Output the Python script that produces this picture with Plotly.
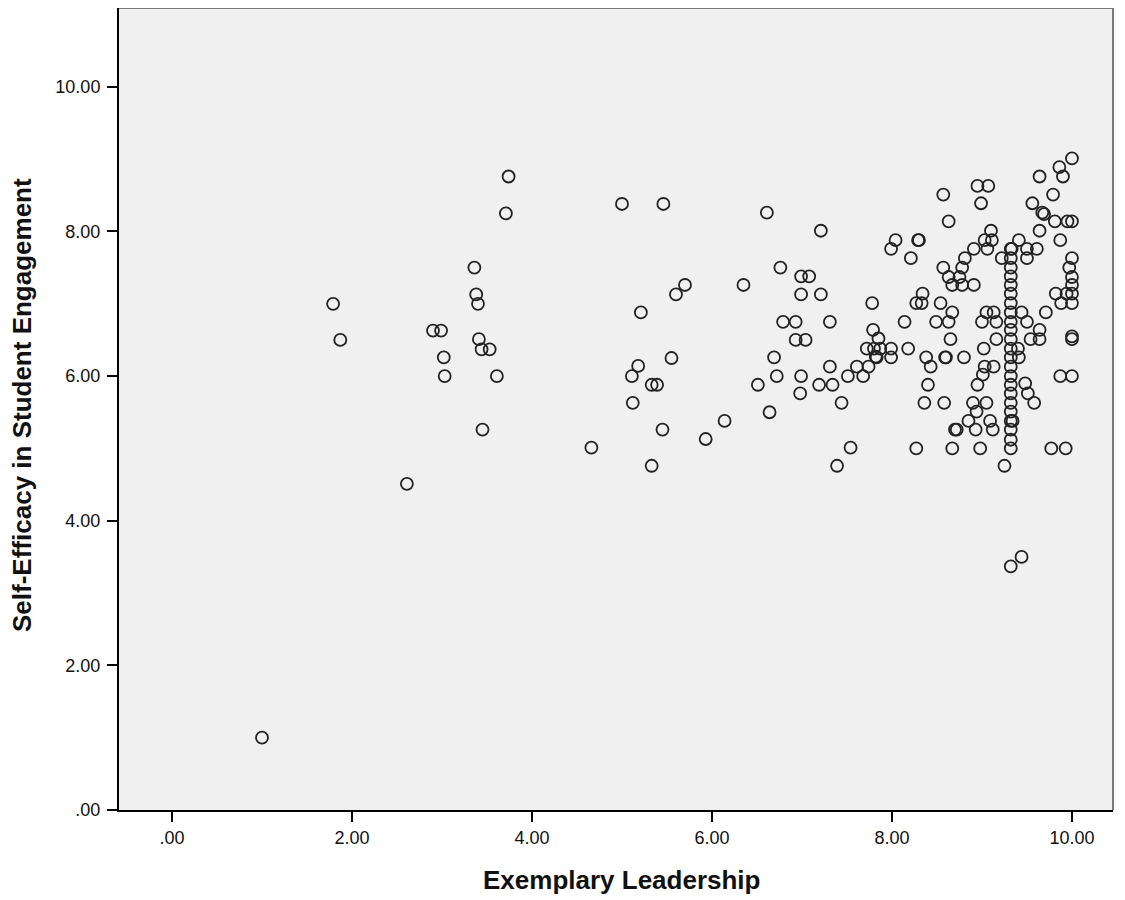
import plotly.graph_objects as go

# Exemplary Leadership (x) and Self-Efficacy in Student Engagement (y)
x_left = [1.00, 1.79, 1.87, 2.61, 2.90, 2.99, 3.02, 3.03, 3.74, 3.71, 3.36, 3.38, 3.40,
          3.41, 3.44, 3.53, 3.61, 3.45]
y_left = [1.00, 7.00, 6.50, 4.51, 6.63, 6.63, 6.26, 6.00, 8.76, 8.25, 7.50, 7.13, 7.00,
          6.51, 6.37, 6.37, 6.00, 5.26]

x_mid = [5.00, 5.46, 5.70, 5.60, 6.35, 5.21, 5.55, 5.18, 5.11, 5.33, 5.39, 5.12, 5.45,
         6.14, 5.93, 4.66, 5.33,
         6.61, 7.21, 6.76, 6.99, 7.08, 6.99, 7.21, 7.78, 6.79, 6.93, 7.31, 6.93, 7.04,
         6.69, 7.31, 6.72, 6.99, 6.51, 7.19, 7.34, 6.98, 7.44, 6.64, 7.54, 7.39,
         7.79, 7.72, 7.80, 7.82, 7.61, 7.74, 7.51, 7.68, 7.85, 7.87, 7.99, 7.83, 7.99, 8.18]
y_mid = [8.38, 8.38, 7.26, 7.13, 7.26, 6.88, 6.25, 6.14, 6.00, 5.88, 5.88, 5.63, 5.26,
         5.38, 5.13, 5.01, 4.76,
         8.26, 8.01, 7.50, 7.38, 7.38, 7.13, 7.13, 7.01, 6.75, 6.75, 6.75, 6.50, 6.50,
         6.26, 6.13, 6.00, 6.00, 5.88, 5.88, 5.88, 5.76, 5.63, 5.50, 5.01, 4.76,
         6.64, 6.38, 6.38, 6.27, 6.13, 6.13, 6.00, 6.00, 6.52, 6.38, 6.38, 6.26, 6.26, 6.38]

x_right = [10.00, 9.86, 9.90, 9.64, 9.79, 8.57, 8.95, 9.07, 8.99, 9.56, 9.67, 9.69,
           8.63, 9.81, 9.95, 10.00, 9.64, 9.87, 8.04, 7.99, 8.29, 8.30, 8.21,
           9.10, 9.03, 9.11, 8.91, 9.06, 8.81, 9.41, 9.33, 9.50, 9.61, 9.22, 9.50, 10.00,
           8.57, 8.78, 9.97, 8.63, 8.75, 10.00, 8.67, 8.78, 8.91, 10.00,
           8.34, 8.27, 8.33, 8.54, 9.82, 9.94, 10.00, 9.88, 10.00,
           8.67, 9.71, 9.05, 9.13, 9.44, 8.14, 8.49, 8.63, 9.00, 9.16, 9.50, 9.64, 10.00,
           8.65, 9.16, 9.54, 9.64, 10.00, 9.02, 9.40, 8.38, 8.59, 8.60, 8.80, 8.43,
           9.03, 9.13, 9.41, 9.01, 8.95, 8.40, 9.48, 9.51, 9.58, 9.87, 10.00,
           8.36, 8.58, 8.90, 9.05, 8.94, 8.85, 9.09, 9.34, 8.70, 8.72, 8.93, 9.12,
           8.27, 8.67, 8.98, 9.77, 9.93, 9.25, 9.32, 9.44,
           9.32, 9.32, 9.32, 9.32, 9.32, 9.32, 9.32, 9.32, 9.32, 9.32, 9.32, 9.32,
           9.32, 9.32, 9.32, 9.32, 9.32, 9.32, 9.32, 9.32, 9.32, 9.32, 9.32]
y_right = [9.01, 8.89, 8.76, 8.76, 8.51, 8.51, 8.63, 8.63, 8.39, 8.39, 8.26, 8.24,
           8.14, 8.14, 8.14, 8.14, 8.01, 7.88, 7.88, 7.76, 7.88, 7.88, 7.63,
           8.01, 7.88, 7.88, 7.76, 7.76, 7.63, 7.88, 7.76, 7.76, 7.76, 7.63, 7.63, 7.63,
           7.50, 7.50, 7.50, 7.37, 7.37, 7.37, 7.26, 7.26, 7.26, 7.26,
           7.14, 7.01, 7.01, 7.01, 7.14, 7.14, 7.14, 7.01, 7.01,
           6.88, 6.88, 6.88, 6.88, 6.88, 6.75, 6.75, 6.75, 6.75, 6.75, 6.75, 6.64, 6.55,
           6.51, 6.51, 6.51, 6.51, 6.51, 6.38, 6.38, 6.26, 6.26, 6.26, 6.26, 6.13,
           6.13, 6.13, 6.26, 6.02, 5.88, 5.88, 5.90, 5.76, 5.63, 6.00, 6.00,
           5.63, 5.63, 5.63, 5.63, 5.51, 5.38, 5.38, 5.38, 5.26, 5.26, 5.26, 5.26,
           5.00, 5.00, 5.00, 5.00, 5.00, 4.76, 3.37, 3.50,
           7.76, 7.63, 7.50, 7.38, 7.26, 7.14, 7.01, 6.88, 6.75, 6.64, 6.51, 6.38,
           6.26, 6.13, 6.00, 5.88, 5.76, 5.63, 5.51, 5.38, 5.26, 5.12, 5.00]

x_vals = x_left + x_mid + x_right
y_vals = y_left + y_mid + y_right

tick_vals = [0, 2, 4, 6, 8, 10]
tick_text = [".00", "2.00", "4.00", "6.00", "8.00", "10.00"]
x_title = "Exemplary Leadership"
y_title = "Self-Efficacy in Student Engagement"

fig = go.Figure()
fig.add_trace(go.Scatter(
    x=x_vals, y=y_vals, mode="markers",
    marker=dict(symbol="circle-open", size=12, color="#222222",
                line=dict(width=1.8, color="#222222")),
    showlegend=False, hoverinfo="skip"))

font_family = "Liberation Sans, Arial, sans-serif"
axis_common = dict(
    showgrid=False, zeroline=False, showline=True, linecolor="#000000", linewidth=2,
    ticks="outside", ticklen=10, tickwidth=2, tickcolor="#000000",
    tickfont=dict(family=font_family, size=18, color="#111111"),
    tickvals=tick_vals, ticktext=tick_text,
)

fig.update_layout(
    width=1117, height=892,
    margin=dict(l=111, r=12, t=0, b=90),
    paper_bgcolor="#ffffff", plot_bgcolor="#f0f0f0",
    xaxis=dict(range=[-0.589, 10.456], ticklabelstandoff=0, **axis_common),
    yaxis=dict(range=[0, 11.09], ticklabelstandoff=3, **axis_common),
    annotations=[
        dict(text="<b>" + x_title + "</b>", xref="paper", yref="paper",
             x=0.506, y=-0.0873, xanchor="center", yanchor="middle", showarrow=False,
             font=dict(family=font_family, size=26, color="#111111")),
        dict(text="<b>" + y_title + "</b>", xref="paper", yref="paper",
             x=-0.0976, y=0.505, xanchor="center", yanchor="middle", showarrow=False,
             textangle=-90,
             font=dict(family=font_family, size=26, color="#111111")),
    ],
    shapes=[
        dict(type="line", xref="paper", yref="paper", x0=0, x1=1, y0=1, y1=1,
             line=dict(color="#7a7a7a", width=2)),
        dict(type="line", xref="paper", yref="paper", x0=1, x1=1, y0=0, y1=1,
             line=dict(color="#7a7a7a", width=2)),
    ],
)

fig.write_html("out.html")
